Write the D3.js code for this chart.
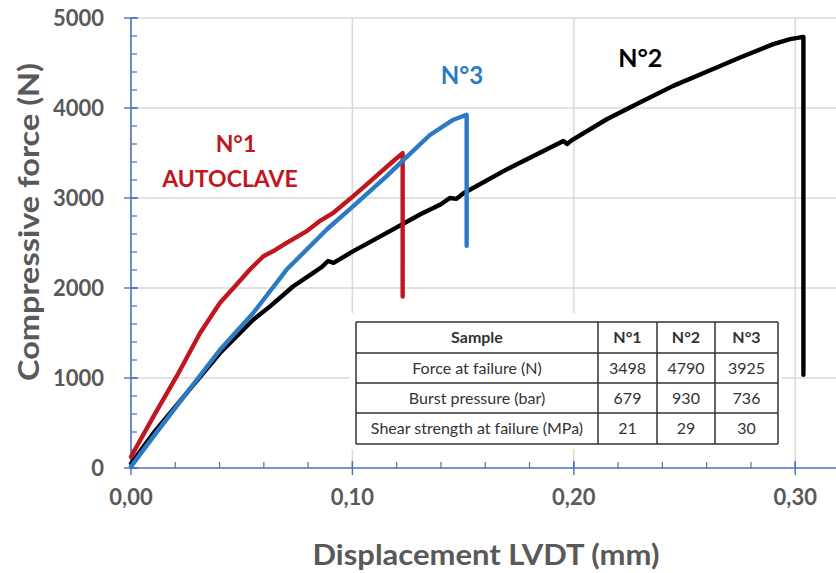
<!DOCTYPE html>
<html><head><meta charset="utf-8">
<script src="https://cdn.jsdelivr.net/npm/d3@7"></script>
<style>html,body{margin:0;padding:0;background:#fff;}svg{display:block;font-family:Lato,"Open Sans",sans-serif;}</style>
</head><body><svg id="c" width="836" height="573"></svg>
<script>
// ---- data ----
const n1Disp  = [0, 0.0101, 0.0206, 0.0312, 0.0402, 0.047, 0.0537, 0.0598, 0.0650, 0.0703, 0.0794, 0.0850, 0.0914, 0.1004, 0.1060, 0.1125, 0.1180, 0.1227, 0.1227];
const n1Force = [125, 571, 1017, 1500, 1837, 2019, 2205, 2353, 2420, 2502, 2632, 2740, 2836, 3021, 3140, 3282, 3400, 3498, 1905];
const n3Disp  = [0, 0.0101, 0.0251, 0.0402, 0.0552, 0.0703, 0.0884, 0.1004, 0.1155, 0.1230, 0.1350, 0.1456, 0.1516, 0.1516];
const n3Force = [15, 349, 832, 1314, 1722, 2205, 2650, 2910, 3244, 3420, 3700, 3870, 3925, 2470];
const n2Disp  = [0, 0.0101, 0.0251, 0.0402, 0.0552, 0.0628, 0.0733, 0.0823, 0.0860, 0.0890, 0.0915, 0.1004, 0.1155, 0.1305, 0.1400, 0.1440, 0.1470, 0.1500, 0.1697, 0.1953, 0.1970, 0.1990, 0.2149, 0.2298, 0.2449, 0.2600, 0.2751, 0.2901, 0.2977, 0.3037, 0.3037];
const n2Force = [50, 386, 832, 1277, 1648, 1796, 2019, 2168, 2230, 2300, 2280, 2409, 2613, 2817, 2930, 3000, 2990, 3050, 3318, 3634, 3600, 3640, 3875, 4061, 4246, 4402, 4562, 4710, 4766, 4790, 1035];

const xTicks = [0, 0.10, 0.20, 0.30];
const xTickLabels = ["0,00", "0,10", "0,20", "0,30"];
const yTicks = [0, 1000, 2000, 3000, 4000, 5000];

const tableHeader = ["Sample", "N°1", "N°2", "N°3"];
const tableRows = [
  ["Force at failure (N)", "3498", "4790", "3925"],
  ["Burst pressure (bar)", "679", "930", "736"],
  ["Shear strength at failure (MPa)", "21", "29", "30"]
];

const seriesLabels = [
  {text: "N°1", x: 0.0474, y: 3600, color: "#C0161E", size: 23},
  {text: "AUTOCLAVE", x: 0.0447, y: 3210, color: "#C0161E", size: 23},
  {text: "N°3", x: 0.1495, y: 4354, color: "#2A7BC4", size: 24},
  {text: "N°2", x: 0.2300, y: 4545, color: "#000000", size: 25}
];

// ---- chart ----
const svg = d3.select("#c");
const x = d3.scaleLinear().domain([0, 0.32]).range([131, 839.5]);
const y = d3.scaleLinear().domain([0, 5000]).range([468, 18]);

// grid
svg.append("g").selectAll("line").data(xTicks.slice(1)).join("line")
  .attr("x1", d => x(d)).attr("x2", d => x(d)).attr("y1", y(0)).attr("y2", y(5000))
  .attr("stroke", "#d9d9d9").attr("stroke-width", 1.5);
svg.append("g").selectAll("line").data(yTicks.slice(1)).join("line")
  .attr("x1", x(0)).attr("x2", 836).attr("y1", d => y(d)).attr("y2", d => y(d))
  .attr("stroke", "#d9d9d9").attr("stroke-width", 1.5);

// axes
const axisColor = "#4472C4";
const xMinor = d3.range(0, 0.321, 0.02);
const yMinor = d3.range(0, 5001, 200);
svg.append("g").selectAll("line").data(xMinor).join("line")
  .attr("x1", d => x(d)).attr("x2", d => x(d)).attr("y1", y(0) - 6).attr("y2", y(0))
  .attr("stroke", axisColor).attr("stroke-width", 1.2);
svg.append("g").selectAll("line").data(xTicks).join("line")
  .attr("x1", d => x(d)).attr("x2", d => x(d)).attr("y1", y(0) - 7).attr("y2", y(0) + 7)
  .attr("stroke", axisColor).attr("stroke-width", 1.4);
svg.append("g").selectAll("line").data(yMinor).join("line")
  .attr("x1", x(0)).attr("x2", x(0) + 6).attr("y1", d => y(d)).attr("y2", d => y(d))
  .attr("stroke", axisColor).attr("stroke-width", 1.2);
svg.append("g").selectAll("line").data(yTicks).join("line")
  .attr("x1", x(0) - 7).attr("x2", x(0) + 7).attr("y1", d => y(d)).attr("y2", d => y(d))
  .attr("stroke", axisColor).attr("stroke-width", 1.4);
svg.append("line").attr("x1", x(0)).attr("x2", 836).attr("y1", y(0)).attr("y2", y(0))
  .attr("stroke", axisColor).attr("stroke-width", 1.6);
svg.append("line").attr("x1", x(0)).attr("x2", x(0)).attr("y1", y(0)).attr("y2", y(5000))
  .attr("stroke", axisColor).attr("stroke-width", 1.6);

// tick labels
svg.append("g").selectAll("text").data(xTicks).join("text")
  .attr("x", d => x(d)).attr("y", 505).attr("text-anchor", "middle")
  .attr("font-size", 22).attr("font-weight", 700).attr("fill", "#595959")
  .text((d, i) => xTickLabels[i]);
svg.append("g").selectAll("text").data(yTicks).join("text")
  .attr("x", 104).attr("y", d => y(d) + 8).attr("text-anchor", "end")
  .attr("font-size", 22).attr("font-weight", 700).attr("fill", "#595959")
  .text(d => d);

// axis titles
svg.append("text").attr("x", 486).attr("y", 565).attr("text-anchor", "middle")
  .attr("font-size", 28).attr("font-weight", 700).attr("fill", "#595959")
  .attr("textLength", 347).attr("lengthAdjust", "spacingAndGlyphs")
  .text("Displacement LVDT (mm)");
svg.append("text").attr("transform", "translate(39,222) rotate(-90)").attr("text-anchor", "middle")
  .attr("font-size", 28).attr("font-weight", 700).attr("fill", "#595959")
  .attr("textLength", 318).attr("lengthAdjust", "spacingAndGlyphs")
  .text("Compressive force (N)");

// curves
const line = d3.line().x(d => x(d[0])).y(d => y(d[1]));
const series = [
  {xs: n2Disp, ys: n2Force, color: "#000000"},
  {xs: n1Disp, ys: n1Force, color: "#C0161E"},
  {xs: n3Disp, ys: n3Force, color: "#2A7BC4"}
];
series.forEach(s => {
  svg.append("path").datum(s.xs.map((v, i) => [v, s.ys[i]]))
    .attr("d", line).attr("fill", "none").attr("stroke", s.color)
    .attr("stroke-width", 4.4).attr("stroke-linejoin", "round").attr("stroke-linecap", "round");
});

// series labels
svg.append("g").selectAll("text").data(seriesLabels).join("text")
  .attr("x", d => x(d.x)).attr("y", d => y(d.y) + 8).attr("text-anchor", "middle")
  .attr("font-size", d => d.size).attr("font-weight", 700).attr("fill", d => d.color)
  .text(d => d.text);

// table
const tb = svg.append("g");
tb.append("rect").attr("x", 350).attr("y", 313).attr("width", 432).attr("height", 136).attr("fill", "#fff");
const colX = [356, 598, 657, 715, 778];
const rowY = [322, 353, 383, 413, 444];
const allRows = [tableHeader].concat(tableRows);
allRows.forEach((row, r) => {
  row.forEach((cell, c) => {
    tb.append("text")
      .attr("x", (colX[c] + colX[c + 1]) / 2)
      .attr("y", (rowY[r] + rowY[r + 1]) / 2 + 5.5)
      .attr("text-anchor", "middle").attr("font-size", 16)
      .attr("font-weight", (r === 0) ? 700 : 400)
      .attr("fill", "#333333").text(cell);
  });
});
rowY.forEach(v => tb.append("line").attr("x1", colX[0]).attr("x2", colX[4]).attr("y1", v).attr("y2", v)
  .attr("stroke", "#333").attr("stroke-width", 1.5));
colX.forEach(v => tb.append("line").attr("x1", v).attr("x2", v).attr("y1", rowY[0]).attr("y2", rowY[4])
  .attr("stroke", "#333").attr("stroke-width", 1.5));
</script></body></html>
